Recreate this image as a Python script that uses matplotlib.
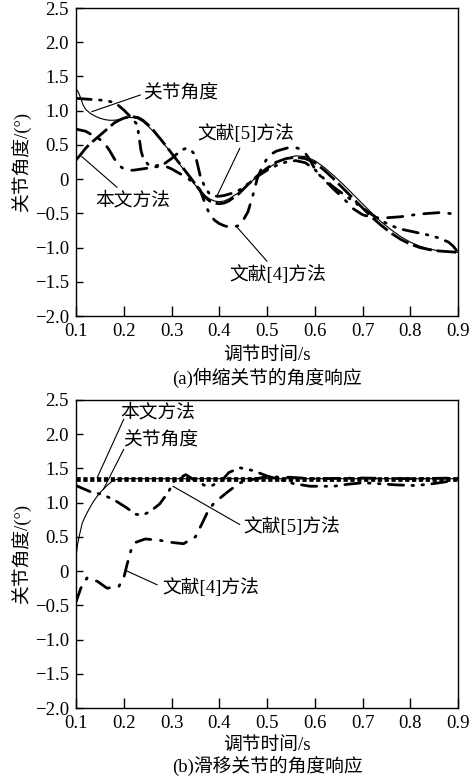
import matplotlib
matplotlib.use("Agg")
import matplotlib.pyplot as plt

plt.rcParams['font.family'] = ['Liberation Serif', 'Noto Sans CJK SC', 'DejaVu Sans']
plt.rcParams['font.size'] = 13.5

# ---------------------------- data, panel (a) ----------------------------
t_a_joint = [0.1, 0.105, 0.11, 0.115, 0.12, 0.13, 0.14, 0.15, 0.16, 0.17, 0.18, 0.19, 0.2,
             0.21, 0.22, 0.23, 0.24, 0.25, 0.26, 0.28, 0.3, 0.32, 0.34, 0.36, 0.37, 0.38,
             0.39, 0.4, 0.41, 0.42, 0.44, 0.46, 0.48, 0.5, 0.52, 0.54, 0.56, 0.58, 0.6,
             0.62, 0.64, 0.66, 0.68, 0.7, 0.72, 0.74, 0.76, 0.78, 0.8, 0.82, 0.84, 0.86,
             0.88, 0.9]
a_joint = [1.32, 1.27, 1.18, 1.08, 1.02, 0.96, 0.92, 0.89, 0.87, 0.86, 0.86, 0.87, 0.89,
           0.9, 0.9, 0.88, 0.84, 0.78, 0.71, 0.55, 0.38, 0.19, 0.0, -0.18, -0.24, -0.29,
           -0.32, -0.33, -0.32, -0.29, -0.2, -0.08, 0.04, 0.15, 0.24, 0.3, 0.34, 0.33, 0.27,
           0.17, 0.05, -0.08, -0.22, -0.36, -0.5, -0.63, -0.74, -0.84, -0.92, -0.98, -1.02,
           -1.05, -1.06, -1.07]

t_a_ours = [0.1, 0.11, 0.12, 0.13, 0.14, 0.15, 0.16, 0.17, 0.18, 0.19, 0.2, 0.21, 0.22,
            0.23, 0.24, 0.25, 0.26, 0.28, 0.3, 0.32, 0.34, 0.36, 0.37, 0.38, 0.39, 0.4,
            0.41, 0.42, 0.44, 0.46, 0.48, 0.5, 0.52, 0.54, 0.56, 0.58, 0.6, 0.62, 0.64,
            0.66, 0.68, 0.7, 0.72, 0.74, 0.76, 0.78, 0.8, 0.82, 0.84, 0.86, 0.88, 0.9]
a_ours = [0.28, 0.36, 0.45, 0.52, 0.58, 0.64, 0.7, 0.76, 0.82, 0.86, 0.89, 0.91, 0.91,
          0.9, 0.86, 0.8, 0.73, 0.56, 0.38, 0.2, 0.02, -0.17, -0.26, -0.32, -0.35, -0.36,
          -0.35, -0.32, -0.22, -0.08, 0.05, 0.16, 0.25, 0.3, 0.32, 0.3, 0.24, 0.13, 0.0,
          -0.14, -0.28, -0.42, -0.56, -0.68, -0.79, -0.88, -0.95, -1.0, -1.03, -1.05,
          -1.06, -1.07]

t_a_ref5 = [0.1, 0.12, 0.14, 0.16, 0.18, 0.19, 0.2, 0.21, 0.22, 0.228, 0.232, 0.236, 0.24,
            0.25, 0.26, 0.27, 0.28, 0.29, 0.3, 0.31, 0.32, 0.33, 0.34, 0.35, 0.355, 0.36,
            0.37, 0.38, 0.39, 0.4, 0.41, 0.42, 0.43, 0.44, 0.46, 0.48, 0.5, 0.52, 0.54,
            0.56, 0.58, 0.6, 0.62, 0.64, 0.66, 0.68, 0.7, 0.72, 0.74, 0.76, 0.78, 0.8,
            0.82, 0.84, 0.86, 0.88, 0.89, 0.9]
a_ref5 = [1.18, 1.17, 1.16, 1.15, 1.12, 1.07, 1.01, 0.94, 0.86, 0.8, 0.62, 0.42, 0.32,
          0.22, 0.18, 0.18, 0.2, 0.25, 0.3, 0.36, 0.42, 0.45, 0.43, 0.35, 0.2, 0.05,
          -0.12, -0.22, -0.25, -0.25, -0.24, -0.22, -0.2, -0.17, -0.07, 0.04, 0.13, 0.2,
          0.25, 0.27, 0.24, 0.14, 0.0, -0.12, -0.22, -0.32, -0.42, -0.52, -0.61, -0.68,
          -0.73, -0.76, -0.79, -0.82, -0.86, -0.92, -0.98, -1.07]

t_a_ref4 = [0.1, 0.12, 0.13, 0.14, 0.15, 0.16, 0.17, 0.18, 0.19, 0.2, 0.21, 0.22, 0.23,
            0.24, 0.25, 0.26, 0.27, 0.28, 0.29, 0.3, 0.31, 0.32, 0.33, 0.34, 0.35, 0.36,
            0.37, 0.38, 0.39, 0.4, 0.41, 0.42, 0.43, 0.44, 0.45, 0.46, 0.47, 0.48, 0.49,
            0.5, 0.51, 0.52, 0.53, 0.54, 0.55, 0.56, 0.57, 0.58, 0.59, 0.6, 0.61, 0.62,
            0.63, 0.64, 0.66, 0.68, 0.7, 0.72, 0.74, 0.76, 0.78, 0.8, 0.82, 0.84, 0.86,
            0.88, 0.9]
a_ref4 = [0.73, 0.7, 0.66, 0.62, 0.58, 0.52, 0.42, 0.3, 0.2, 0.15, 0.13, 0.13, 0.14,
          0.15, 0.16, 0.18, 0.2, 0.2, 0.18, 0.15, 0.11, 0.07, 0.03, -0.02, -0.08, -0.16,
          -0.35, -0.52, -0.6, -0.65, -0.68, -0.7, -0.7, -0.68, -0.6, -0.48, -0.25, 0.02,
          0.18, 0.3, 0.37, 0.41, 0.43, 0.45, 0.47, 0.46, 0.44, 0.38, 0.28, 0.15, 0.06,
          -0.02, -0.08, -0.15, -0.28, -0.43, -0.52, -0.56, -0.57, -0.56, -0.55, -0.53,
          -0.51, -0.5, -0.49, -0.5, -0.52]

# ---------------------------- data, panel (b) ----------------------------
t_b_joint = [0.1, 0.103, 0.107, 0.113, 0.118, 0.123, 0.13, 0.135, 0.145, 0.152, 0.165,
             0.175, 0.185, 0.2, 0.3, 0.5, 0.7, 0.9]
b_joint = [0.2, 0.38, 0.52, 0.7, 0.78, 0.85, 0.94, 1.0, 1.1, 1.16, 1.25, 1.31, 1.34,
           1.35, 1.35, 1.35, 1.35, 1.35]

t_b_ours = [0.1, 0.3, 0.5, 0.7, 0.9]
b_ours = [1.35, 1.35, 1.35, 1.35, 1.35]

t_b_ref5 = [0.1, 0.11, 0.13, 0.155, 0.18, 0.205, 0.225, 0.24, 0.255, 0.275, 0.293, 0.305,
            0.33, 0.35, 0.37, 0.385, 0.405, 0.42, 0.443, 0.47, 0.5, 0.53, 0.555, 0.59,
            0.64, 0.67, 0.7, 0.73, 0.77, 0.81, 0.84, 0.87, 0.9]
b_ref5 = [1.25, 1.22, 1.16, 1.12, 1.04, 0.93, 0.83, 0.82, 0.87, 0.98, 1.15, 1.31, 1.41,
          1.32, 1.25, 1.25, 1.32, 1.44, 1.51, 1.47, 1.39, 1.33, 1.28, 1.24, 1.24, 1.27,
          1.29, 1.28, 1.26, 1.25, 1.27, 1.3, 1.34]

t_b_ref4 = [0.1, 0.11, 0.123, 0.145, 0.165, 0.19, 0.2, 0.207, 0.215, 0.225, 0.245, 0.275,
            0.3, 0.325, 0.35, 0.365, 0.378, 0.39, 0.418, 0.443, 0.47, 0.5, 0.55, 0.6, 0.7,
            0.8, 0.9]
b_ref4 = [-0.45, -0.25, -0.1, -0.15, -0.25, -0.22, -0.1, 0.1, 0.3, 0.42, 0.47, 0.45, 0.42,
          0.4, 0.5, 0.71, 0.9, 1.0, 1.16, 1.29, 1.34, 1.38, 1.37, 1.35, 1.36, 1.35, 1.36]

x_ticks = [0.1, 0.2, 0.3, 0.4, 0.5, 0.6, 0.7, 0.8, 0.9]
x_labels = ['0.1', '0.2', '0.3', '0.4', '0.5', '0.6', '0.7', '0.8', '0.9']
y_ticks = [-2.0, -1.5, -1.0, -0.5, 0.0, 0.5, 1.0, 1.5, 2.0, 2.5]
y_labels = ['\u22122.0', '\u22121.5', '\u22121.0', '\u22120.5', '0', '0.5', '1.0', '1.5',
            '2.0', '2.5']

# line styles
thin = dict(color='black', lw=0.8)
ours_a = dict(color='black', lw=2.0, linestyle=(0, (7, 1.8)))
ours_b = dict(color='black', lw=3.4, linestyle=(0, (0.9, 0.55)))
dashdot = dict(color='black', lw=2.0, linestyle=(0, (5.5, 3.5, 0.6, 3.5)),
               dash_capstyle='round')
dashdotdot = dict(color='black', lw=2.0, linestyle=(0, (5.5, 3, 0.6, 3, 0.6, 3)),
                  dash_capstyle='round')


def setup_axes(ax):
    ax.set_xlim(0.1, 0.9)
    ax.set_ylim(-2.0, 2.5)
    ax.set_xticks(x_ticks)
    ax.set_xticklabels(x_labels)
    ax.set_yticks(y_ticks)
    ax.set_yticklabels(y_labels)
    ax.tick_params(axis='x', direction='in', length=7, width=1.0, pad=5,
                   top=False, labelsize=13.5)
    ax.tick_params(axis='y', direction='in', length=5, width=1.0, pad=5,
                   right=False, labelsize=13.5)
    for sp in ax.spines.values():
        sp.set_linewidth(1.0)


def pointer(ax, text, text_xy, start, end):
    ax.text(text_xy[0], text_xy[1], text, ha='left', va='center', fontsize=13.5)
    ax.annotate('', xy=end, xytext=start,
                arrowprops=dict(arrowstyle='-', lw=0.8, color='black',
                                shrinkA=0, shrinkB=0))


fig = plt.figure(figsize=(4.73, 7.77), dpi=100)
ax1 = fig.add_axes([0.1607, 0.5933, 0.8076, 0.3964])
ax2 = fig.add_axes([0.1607, 0.0888, 0.8076, 0.3964])

# ---------------------------- panel (a) ----------------------------
ax1.plot(t_a_joint, a_joint, **thin)
ax1.plot(t_a_ours, a_ours, **ours_a)
ax1.plot(t_a_ref5, a_ref5, **dashdotdot)
ax1.plot(t_a_ref4, a_ref4, **dashdot)
setup_axes(ax1)
pointer(ax1, '关节角度', (0.24, 1.25), (0.235, 1.23), (0.133, 0.985))
pointer(ax1, '文献[5]方法', (0.355, 0.66), (0.443, 0.45), (0.395, -0.25))
pointer(ax1, '本文方法', (0.14, -0.32), (0.186, -0.12), (0.112, 0.33))
pointer(ax1, '文献[4]方法', (0.422, -1.4), (0.5, -1.2), (0.437, -0.7))

# ---------------------------- panel (b) ----------------------------
ax2.plot(t_b_joint, b_joint, **thin)
ax2.plot(t_b_ref5, b_ref5, **dashdotdot)
ax2.plot(t_b_ref4, b_ref4, **dashdot)
ax2.plot(t_b_ours, b_ours, **ours_b)
setup_axes(ax2)
pointer(ax2, '本文方法', (0.192, 2.32), (0.2, 2.22), (0.144, 1.36))
pointer(ax2, '关节角度', (0.198, 1.9), (0.2, 1.78), (0.157, 1.19))
pointer(ax2, '文献[5]方法', (0.45, 0.65), (0.443, 0.68), (0.303, 1.24))
pointer(ax2, '文献[4]方法', (0.28, -0.24), (0.27, -0.2), (0.207, 0.0))

# axis titles and captions
for y_xl, y_cap, y_yl, cap in [(355, 378, 162, '(a)伸缩关节的角度响应'),
                               (745, 766, 554, '(b)滑移关节的角度响应')]:
    fig.text(267 / 473, 1 - y_xl / 777, '调节时间/s', ha='center', va='center',
             fontsize=13.5)
    fig.text(267 / 473, 1 - y_cap / 777, cap, ha='center', va='center', fontsize=13.5)
    fig.text(22 / 473, 1 - y_yl / 777, '关节角度/(°)', ha='center', va='center',
             rotation=90, fontsize=13.5)

fig.savefig('out.png', dpi=100)
